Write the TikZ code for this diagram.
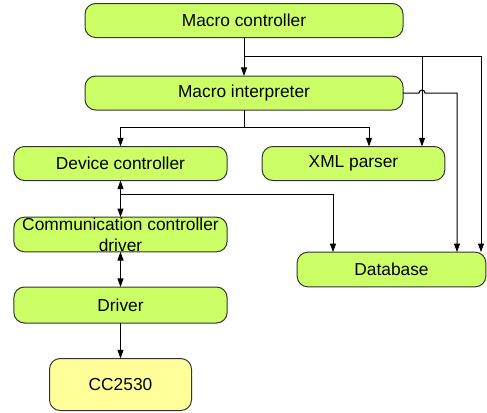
\documentclass[tikz,border=0pt]{standalone}
\usepackage{fontspec}
\setmainfont{Liberation Sans}
\usetikzlibrary{arrows.meta, calc, positioning}
\definecolor{boxgreen}{RGB}{204,255,102}
\definecolor{boxyellow}{RGB}{255,255,153}
\tikzstyle{block} = [rectangle, rounded corners=8pt, draw=black!80, line width=0.75pt, fill=boxgreen, inner sep=0pt, outer sep=0pt, minimum height=25.5pt, text centered, font=\fontsize{13}{16}\selectfont]
\tikzstyle{arrow} = [line width=0.75pt,->,>={Triangle[length=6.5pt,width=4.5pt]}]
\tikzstyle{both} = [line width=0.75pt,<->,>={Triangle[length=6.5pt,width=4.5pt]}]
\tikzstyle{line} = [line width=0.75pt]

\begin{document}
\begin{tikzpicture}[x=0.75pt, y=-0.75pt]
	\useasboundingbox (0,0) rectangle (487,412);
	\node (MacroCtrl) [block, minimum width=238.5pt] at (244,20.5) {Macro controller};
	\node (MacroInt) [block, minimum width=238.5pt] at (244,93) {Macro interpreter};
	\node (DevCtrl) [block, minimum width=160pt] at (120.5,163.5) {Device controller};
	\node (XmlParser) [block, minimum width=137pt] at (353.5,163.5) {XML parser};
	\node (CommDrv) [block, minimum width=160pt, minimum height=26pt, inner ysep=-1.5pt, align=center] at (120.5,234.5) {Communication controller\\driver};
	\node (Database) [block, minimum width=141.5pt, minimum height=26pt] at (391.5,269.5) {Database};
	\node (Driver) [block, minimum width=160pt, minimum height=27pt] at (120.5,305) {Driver};
	\node (CC) [block, fill=boxyellow, minimum width=106.5pt, minimum height=39pt] at (120.5,384.5) {CC2530};

	% macro controller
	\coordinate (ctrlsplit) at ($(MacroCtrl.south)!0.5!(MacroInt.north)$);
	\coordinate (xmlin) at ($(XmlParser.north)+(68.5,0)$);
	\coordinate (dbin1) at ($(Database.north)+(-58.5,0)$);
	\coordinate (dbin2) at ($(Database.north)+(65.5,0)$);
	\coordinate (dbin3) at ($(Database.north)+(89.5,0)$);
	\draw[arrow] (MacroCtrl) -- (MacroInt);
	\draw[arrow] (ctrlsplit) -| (dbin3);
	\draw[arrow] (ctrlsplit -| xmlin) -- (xmlin);

	% macro interpreter
	\coordinate (intsplit) at (244,127.5);
	\coordinate (hop) at (xmlin |- MacroInt.east);
	\draw[line] (MacroInt) -- (intsplit);
	\draw[arrow] (intsplit) -| (DevCtrl.north);
	\draw[arrow] (intsplit) -| ($(XmlParser.north)+(15.5,0)$);
	\draw[arrow] (MacroInt.east) -- ($(hop)+(-3,0)$) arc[start angle=180, end angle=0, radius=2.25pt] -| (dbin2);

	% device side
	\coordinate (devsplit) at ($(DevCtrl.south)!0.39!(CommDrv.north)$);
	\draw[both] (DevCtrl) -- (CommDrv);
	\draw[arrow] (devsplit) -| (dbin1);
	\draw[both] (CommDrv) -- (Driver);
	\draw[arrow] (Driver) -- (CC);
\end{tikzpicture}
\end{document}
